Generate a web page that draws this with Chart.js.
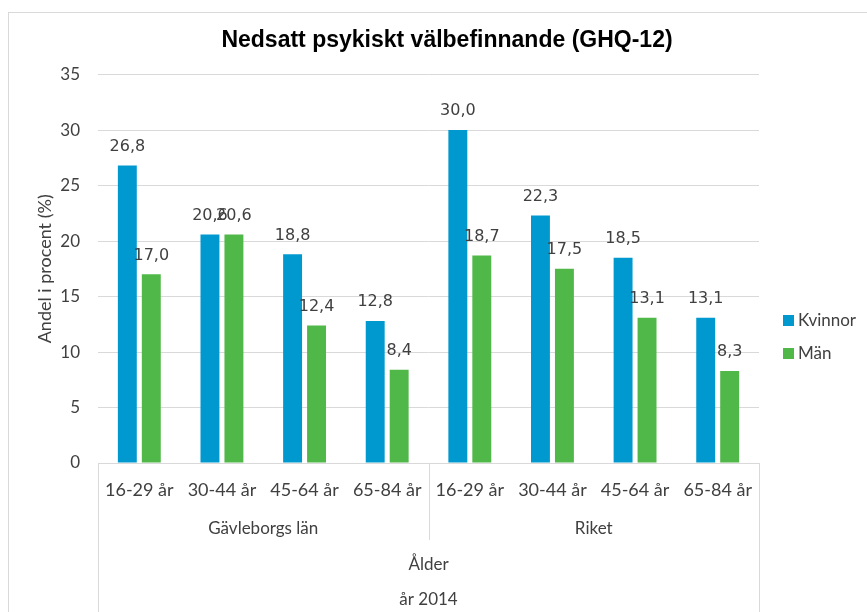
<!DOCTYPE html>
<html>
<head>
<meta charset="utf-8">
<script src="https://cdn.jsdelivr.net/npm/chart.js@4/dist/chart.umd.min.js"></script>
<style>
  html, body { margin: 0; padding: 0; background: #fff; }
  #wrap { position: relative; width: 867px; height: 612px; overflow: hidden; }
  #frame { position: absolute; left: 8px; top: 12px; width: 900px; height: 700px; border: 1px solid #d9d9d9; pointer-events: none; }
  canvas { position: absolute; left: 0; top: 0; }
</style>
</head>
<body>
<div id="wrap">
  <canvas id="c" width="867" height="612"></canvas>
  <div id="frame"></div>
</div>
<script>
const ageLabels = ['16-29 år', '30-44 år', '45-64 år', '65-84 år', '16-29 år', '30-44 år', '45-64 år', '65-84 år'];
const regionLabels = ['Gävleborgs län', 'Riket'];
const kvinnor = [26.8, 20.6, 18.8, 12.8, 30.0, 22.3, 18.5, 13.1];
const man = [17.0, 20.6, 12.4, 8.4, 18.7, 17.5, 13.1, 8.3];
const seriesNames = ['Kvinnor', 'Män'];
const titleText = 'Nedsatt psykiskt välbefinnande (GHQ-12)';
const yTitle = 'Andel i procent (%)';
const xTitle = ['Ålder', 'år 2014'];

const BLUE = '#0099cf';
const GREEN = '#50b848';
const GRID = '#d9d9d9';
const TXT = '#404040';
const LABEL_FONT = 'Lato, "Open Sans", sans-serif';

const valueLabels = {
  id: 'valueLabels',
  afterDatasetsDraw(chart) {
    const ctx = chart.ctx;
    ctx.save();
    ctx.font = '16px "DejaVu Sans", sans-serif';
    ctx.fillStyle = '#404040';
    ctx.textAlign = 'center';
    ctx.textBaseline = 'middle';
    chart.data.datasets.forEach((ds, i) => {
      const meta = chart.getDatasetMeta(i);
      meta.data.forEach((el, j) => {
        const v = ds.data[j];
        ctx.fillText(v.toFixed(1).replace('.', ','), el.x, el.y - 19);
      });
    });
    ctx.restore();
  }
};

const separators = {
  id: 'separators',
  afterDraw(chart) {
    const x = chart.scales.x;
    const ctx = chart.ctx;
    const bottom = chart.chartArea.bottom;
    const n = x.ticks.length;
    const half = (x.getPixelForTick(1) - x.getPixelForTick(0)) / 2;
    ctx.save();
    ctx.strokeStyle = GRID;
    ctx.lineWidth = 1;
    const line = (px, y2) => {
      ctx.beginPath();
      ctx.moveTo(Math.round(px) + 0.5, bottom);
      ctx.lineTo(Math.round(px) + 0.5, y2);
      ctx.stroke();
    };
    line(x.getPixelForTick(0) - half, chart.height);
    line(x.getPixelForTick(n - 1) + half, chart.height);
    line(x.getPixelForTick(n / 2 - 1) + half, bottom + 77);
    ctx.restore();
  }
};

const customLegend = {
  id: 'customLegend',
  afterDraw(chart) {
    const ctx = chart.ctx;
    const x0 = chart.chartArea.right + 24;
    const ys = [320, 353];
    const cols = [BLUE, GREEN];
    ctx.save();
    ctx.font = '17px ' + LABEL_FONT;
    ctx.textBaseline = 'middle';
    ctx.textAlign = 'left';
    seriesNames.forEach((name, i) => {
      ctx.fillStyle = cols[i];
      ctx.fillRect(x0, ys[i] - 5, 11, 11);
      ctx.fillStyle = '#404040';
      ctx.fillText(name, x0 + 15, ys[i] + 1);
    });
    ctx.restore();
  }
};

new Chart(document.getElementById('c'), {
  type: 'bar',
  data: {
    labels: ageLabels,
    datasets: [
      { label: seriesNames[0], data: kvinnor, backgroundColor: BLUE, barPercentage: 0.79, categoryPercentage: 0.58 },
      { label: seriesNames[1], data: man, backgroundColor: GREEN, barPercentage: 0.79, categoryPercentage: 0.58 }
    ]
  },
  options: {
    responsive: false,
    animation: false,
    layout: { padding: { left: 27, right: 0, top: 0, bottom: 0 } },
    plugins: {
      legend: { display: false },
      tooltip: { enabled: false },
      title: {
        display: true,
        text: titleText,
        color: '#000',
        font: { family: '"Liberation Sans", Arial, sans-serif', size: 23, weight: 'bold' },
        padding: { top: 27, bottom: 20 }
      }
    },
    scales: {
      y: {
        min: 0, max: 35,
        ticks: { stepSize: 5, color: TXT, padding: 18, font: { family: LABEL_FONT, size: 17 } },
        grid: { color: GRID, drawTicks: false },
        border: { display: false },
        title: { display: true, text: yTitle, color: TXT, font: { family: LABEL_FONT, size: 18 }, padding: { top: 7, bottom: 4 } },
        afterFit(s) { s.width = 71; }
      },
      yR: {
        position: 'right',
        display: true,
        ticks: { display: false },
        grid: { display: false, drawOnChartArea: false },
        border: { display: false },
        afterFit(s) { s.width = 108; }
      },
      x: {
        ticks: { color: TXT, padding: 8, font: { family: LABEL_FONT, size: 18 }, maxRotation: 0, autoSkip: false },
        grid: { display: false },
        border: { display: true, color: GRID },
        afterFit(s) { s.height = 45; }
      },
      x2: {
        type: 'category',
        position: 'bottom',
        labels: regionLabels,
        offset: true,
        ticks: { color: TXT, padding: 2, font: { family: LABEL_FONT, size: 17 }, maxRotation: 0, autoSkip: false },
        grid: { display: false },
        border: { display: false },
        title: { display: true, text: xTitle, color: TXT, font: { family: LABEL_FONT, size: 17, lineHeight: 2.06 }, padding: { top: 0, bottom: -5 } },
        afterFit(s) { s.height = 104; }
      }
    }
  },
  plugins: [valueLabels, separators, customLegend]
});
</script>
</body>
</html>
